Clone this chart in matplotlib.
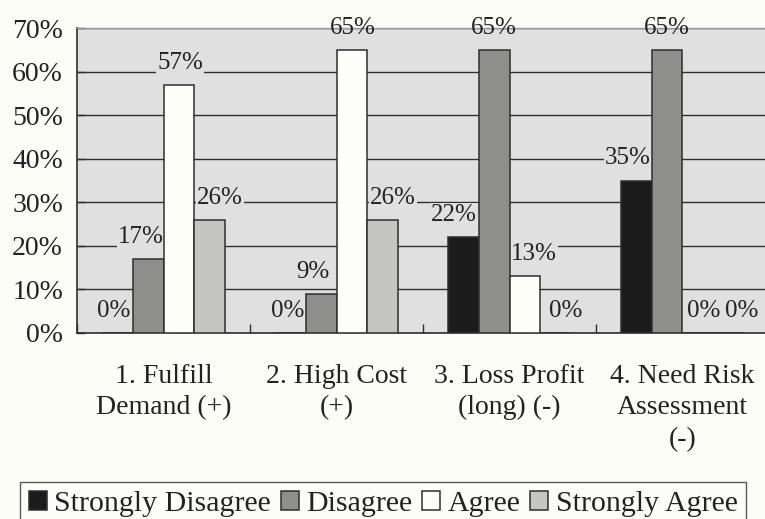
import matplotlib.pyplot as plt
import numpy as np

plt.rcParams['font.family'] = ['Liberation Serif', 'DejaVu Serif']

categories = ['1. Fulfill\nDemand (+)', '2. High Cost\n(+)', '3. Loss Profit\n(long) (-)',
              '4. Need Risk\nAssessment\n(-)']
series = ['Strongly Disagree', 'Disagree', 'Agree', 'Strongly Agree']
strongly_disagree = [0, 0, 22, 35]
disagree = [17, 9, 65, 65]
agree = [57, 65, 13, 0]
strongly_agree = [26, 26, 0, 0]
values = [strongly_disagree, disagree, agree, strongly_agree]

bar_colors = ['#1c1c1c', '#8e8f8d', '#fefef8', '#c5c6c4']
edge = '#2e2e2e'
plot_bg = '#e0e0e0'
fig_bg = '#fdfdf7'

# sideways nudge (pixels) for value labels so they clear taller neighbours
label_nudge = [[-3, -7, 1, 10],
               [-2, -8, 1, 10],
               [-9, 0, 9, 10],
               [-8, 0, 6, 13]]

W, H = 765, 519
fig = plt.figure(figsize=(W / 100, H / 100), dpi=100, facecolor=fig_bg)
ax = fig.add_axes([77 / W, 1 - 333 / H, 692 / W, 305 / H])
ax.set_facecolor(plot_bg)

x = np.arange(len(categories))
bw = 0.179
for i, (name, vals) in enumerate(zip(series, values)):
    pos = x + (i - 1.5) * bw
    ax.bar(pos, vals, bw, color=bar_colors[i], edgecolor=edge, linewidth=1.1,
           label=name, zorder=3)
    for j, v in enumerate(vals):
        kw = {}
        if v <= 60:
            kw['bbox'] = dict(facecolor=plot_bg, edgecolor='none', pad=0.5)
        # labels sit over the grid but under the bars
        ax.annotate(f'{v}%', (pos[j], v), xytext=(label_nudge[j][i] * 0.72, 8),
                    textcoords='offset points', ha='center', va='bottom',
                    fontsize=18, color='#222222', zorder=2.9, annotation_clip=False, **kw)

ax.set_xlim(-0.5, 3.5)
ax.set_ylim(0, 70)
ax.set_yticks(range(0, 71, 10))
ax.set_yticklabels([f'{t}%' for t in range(0, 71, 10)], fontsize=20, color='#222222')
ax.yaxis.grid(True, color='#2e2e2e', linewidth=1.0, zorder=0)
ax.set_axisbelow(True)
ax.tick_params(axis='y', direction='in', length=6, width=1.0, color='#2e2e2e', pad=10)

ax.set_xticks(x)
ax.set_xticklabels(categories, fontsize=20, color='#222222', linespacing=1.35)
ax.tick_params(axis='x', length=0, pad=22)
ax.set_xticks(np.arange(-0.5, 4, 1), minor=True)
ax.tick_params(axis='x', which='minor', direction='in', length=6.5, width=1.0, color='#2e2e2e')

for s in ['left', 'bottom']:
    ax.spines[s].set_color('#2e2e2e')
    ax.spines[s].set_linewidth(1.2)
ax.spines['top'].set_color('#9a9a9a')
ax.spines['top'].set_linewidth(1.0)
ax.spines['right'].set_visible(False)

leg = fig.legend(loc='upper left', bbox_to_anchor=(20 / W, 1 - 482 / H), ncol=4,
                 fontsize=21.5, handlelength=0.6, handleheight=0.6, handletextpad=0.24,
                 columnspacing=0.34, borderpad=0.3, borderaxespad=0, fancybox=False,
                 frameon=True, edgecolor='#333333', facecolor=fig_bg)
leg.get_frame().set_linewidth(1.0)
for t in leg.get_texts():
    t.set_color('#222222')
for p in leg.get_patches():
    p.set_edgecolor(edge)

fig.savefig('out.png', dpi=100, facecolor=fig_bg)
